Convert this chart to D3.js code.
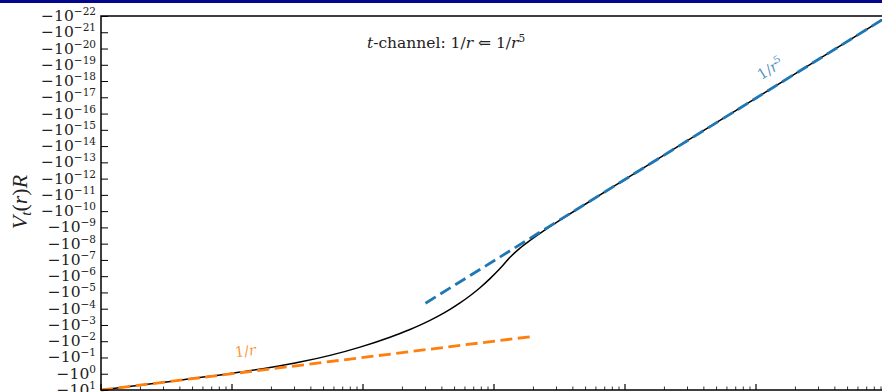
<!DOCTYPE html>
<html>
<head>
<meta charset="utf-8">
<script src="https://cdn.jsdelivr.net/npm/d3@7"></script>
<style>
  html, body { margin: 0; padding: 0; background: #fff; }
  svg { display: block; }
</style>
</head>
<body>
<svg id="chart" width="882" height="392"></svg>
<script>
// Full t-channel potential V_t(r)R (black)
const radius = [0.1, 0.3, 1, 1.95, 3.3, 5.6, 9.5, 16.07, 19.16, 22.85, 27.24, 32.48, 38.72, 46.15, 55.03, 65.6, 78.19, 93.23, 111.1, 132.5, 157.9, 188.3, 224.4, 267.6, 319, 453.5, 1000, 1e4, 1e5];
const potential = [-10, -3.33, -0.94, -0.413, -0.192, -0.0744, -0.0230, -5.66e-3, -3.34e-3, -1.90e-3, -1.028e-3, -5.27e-4, -2.51e-4, -1.104e-4, -4.44e-5, -1.600e-5, -5.12e-6, -1.409e-6, -3.37e-7, -6.90e-8, -1.875e-8, -6.31e-9, -2.34e-9, -9.06e-10, -3.61e-10, -5.98e-11, -1.12e-12, -1.12e-17, -1.12e-22];

// Asymptotic 1/r behaviour (orange, dashed)
const shortR = [0.1, 200];
const shortV = [-10, -0.005];

// Asymptotic 1/r^5 behaviour (blue, dashed)
const longR = [30, 1e5];
const longV = [-4.617e-5, -1.122e-22];

// y tick exponents: -10^k
const yExponents = d3.range(-22, 2);

const svg = d3.select("#chart");
const plotLeft = 101, plotRight = 887, plotTop = 16, plotBottom = 390;

const x = d3.scaleLog().domain([0.1, 1e5]).range([plotLeft, plotRight]);
const y = d3.scaleLog().domain([-1e-22, -10]).range([plotTop, plotBottom]);

// header band
svg.append("rect").attr("x", 0).attr("y", 0).attr("width", 882).attr("height", 3).attr("fill", "#06068a");

// curves
const smooth = d3.line().x(d => x(d[0])).y(d => y(d[1])).curve(d3.curveMonotoneX);
svg.append("path")
  .datum(radius.map((r, i) => [r, potential[i]]))
  .attr("d", smooth)
  .attr("fill", "none").attr("stroke", "#000").attr("stroke-width", 1.5);

const straight = d3.line().x(d => x(d[0])).y(d => y(d[1]));
svg.append("path")
  .datum(shortR.map((r, i) => [r, shortV[i]]))
  .attr("d", straight)
  .attr("fill", "none").attr("stroke", "#ff7f0e").attr("stroke-width", 2.8)
  .attr("stroke-dasharray", "12,5.5");

svg.append("path")
  .datum(longR.map((r, i) => [r, longV[i]]))
  .attr("d", straight)
  .attr("fill", "none").attr("stroke", "#1f77b4").attr("stroke-width", 2.8)
  .attr("stroke-dasharray", "12,5.5");

// frame
svg.append("rect")
  .attr("x", plotLeft).attr("y", plotTop).attr("width", plotRight - plotLeft).attr("height", plotBottom - plotTop)
  .attr("fill", "none").attr("stroke", "#000").attr("stroke-width", 1.5);

// y axis ticks (inward) and labels
const yTickVals = yExponents.map(k => -Math.pow(10, k));
const yAxis = d3.axisLeft(y).tickValues(yTickVals).tickSize(-7).tickFormat("");
const gy = svg.append("g").attr("transform", `translate(${plotLeft},0)`).call(yAxis);
gy.select(".domain").remove();
gy.selectAll(".tick line").attr("stroke", "#000").attr("stroke-width", 1);

const labels = svg.append("g")
  .attr("font-family", "DejaVu Serif, serif")
  .attr("fill", "#222");
yExponents.forEach((k, i) => {
  const t = labels.append("text")
    .attr("x", 96)
    .attr("y", y(yTickVals[i]) + 5)
    .attr("text-anchor", "end")
    .attr("font-size", 15.5);
  t.append("tspan").text("\u221210");
  t.append("tspan").attr("dy", -6).attr("font-size", 10.5)
    .text((k < 0 ? "\u2212" : "") + Math.abs(k));
});

// x axis ticks (inward), major and minor
const majors = d3.range(-1, 6).map(k => Math.pow(10, k));
const minors = [];
d3.range(-1, 5).forEach(k => { for (let m = 2; m <= 9; m++) minors.push(m * Math.pow(10, k)); });
const gx = svg.append("g");
gx.selectAll("line.major").data(majors).join("line").attr("class", "major")
  .attr("x1", d => x(d)).attr("x2", d => x(d))
  .attr("y1", plotBottom).attr("y2", plotBottom - 6)
  .attr("stroke", "#000").attr("stroke-width", 1.2);
gx.selectAll("line.minor").data(minors).join("line").attr("class", "minor")
  .attr("x1", d => x(d)).attr("x2", d => x(d))
  .attr("y1", plotBottom).attr("y2", plotBottom - 3.5)
  .attr("stroke", "#000").attr("stroke-width", 0.8);

// y axis title
const yt = svg.append("text")
  .attr("transform", "translate(27,202) rotate(-90)")
  .attr("text-anchor", "middle")
  .attr("font-family", "Liberation Serif, serif")
  .attr("font-size", 22)
  .attr("fill", "#222");
yt.append("tspan").attr("font-style", "italic").text("V");
yt.append("tspan").attr("font-style", "italic").attr("font-size", 15).attr("dy", 4).text("t");
yt.append("tspan").attr("dy", -4).text("(");
yt.append("tspan").attr("font-style", "italic").text("r");
yt.append("tspan").text(")");
yt.append("tspan").attr("font-style", "italic").text("R");

// title
const title = svg.append("text")
  .attr("x", 446).attr("y", 48)
  .attr("text-anchor", "middle")
  .attr("font-family", "DejaVu Serif, serif")
  .attr("font-size", 15.5)
  .attr("fill", "#222");
title.append("tspan").attr("font-style", "italic").text("t");
title.append("tspan").text("-channel:  1/");
title.append("tspan").attr("font-style", "italic").text("r");
title.append("tspan").text(" \u21D0 1/");
title.append("tspan").attr("font-style", "italic").text("r");
title.append("tspan").attr("dy", -6).attr("font-size", 10.5).text("5");

// asymptote labels
const lb = svg.append("text")
  .attr("transform", "translate(773,73) rotate(-31.8)")
  .attr("text-anchor", "middle")
  .attr("font-family", "DejaVu Serif, serif")
  .attr("font-size", 14.5)
  .attr("fill", "#1f77b4").attr("fill-opacity", 0.8);
lb.append("tspan").text("1/");
lb.append("tspan").attr("font-style", "italic").text("r");
lb.append("tspan").attr("dy", -6).attr("font-size", 10).text("5");

const lo = svg.append("text")
  .attr("transform", "translate(246,356) rotate(-7)")
  .attr("text-anchor", "middle")
  .attr("font-family", "DejaVu Serif, serif")
  .attr("font-size", 14.5)
  .attr("fill", "#ff7f0e").attr("fill-opacity", 0.85);
lo.append("tspan").text("1/");
lo.append("tspan").attr("font-style", "italic").text("r");
</script>
</body>
</html>
